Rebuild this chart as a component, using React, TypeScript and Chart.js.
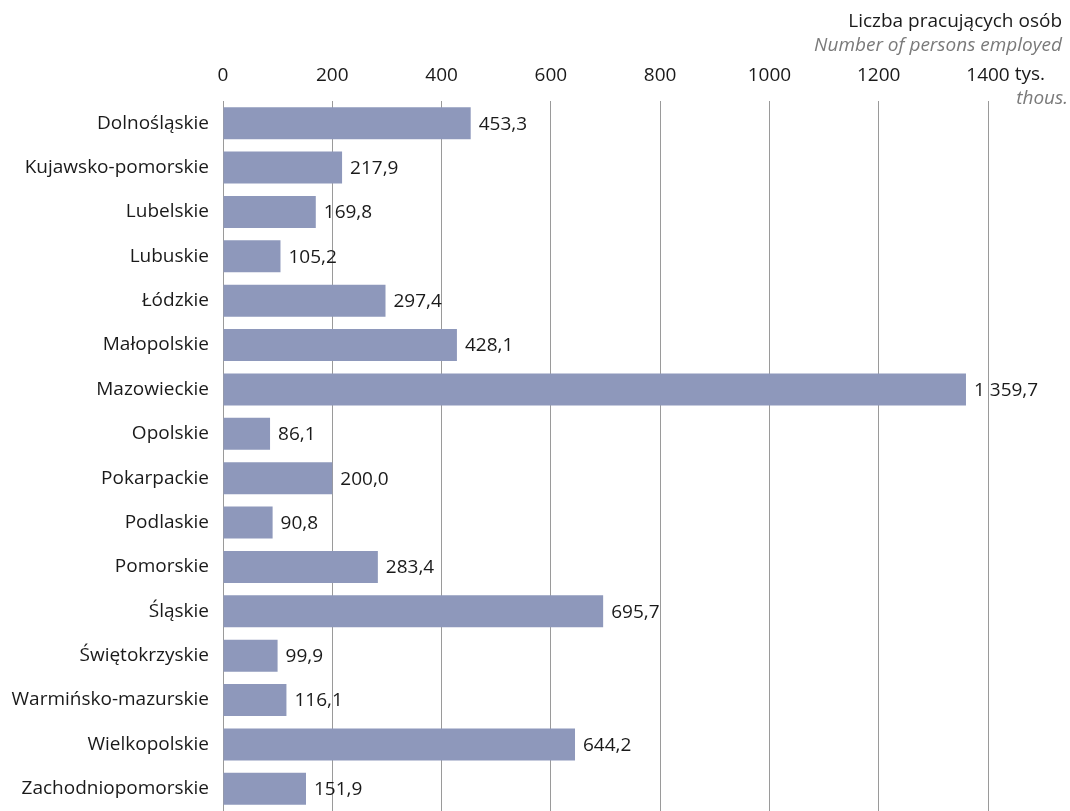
import React, { useEffect, useRef } from "react";
import { Chart, registerables } from "chart.js";

Chart.register(...registerables);

const categories = [
  "Dolnośląskie",
  "Kujawsko-pomorskie",
  "Lubelskie",
  "Lubuskie",
  "Łódzkie",
  "Małopolskie",
  "Mazowieckie",
  "Opolskie",
  "Pokarpackie",
  "Podlaskie",
  "Pomorskie",
  "Śląskie",
  "Świętokrzyskie",
  "Warmińsko-mazurskie",
  "Wielkopolskie",
  "Zachodniopomorskie",
];

const values = [
  453.3, 217.9, 169.8, 105.2, 297.4, 428.1, 1359.7, 86.1, 200.0, 90.8, 283.4,
  695.7, 99.9, 116.1, 644.2, 151.9,
];

const xTicks = [0, 200, 400, 600, 800, 1000, 1200, 1400];

const titlePl = "Liczba pracujących osób";
const titleEn = "Number of persons employed";
const unitPl = " tys.";
const unitEn = "thous.";

const FONT = "'Open Sans', sans-serif";
const SIZE = 19;

function formatPl(v: number): string {
  const fixed = v.toFixed(1);
  const [intPart, dec] = fixed.split(".");
  const withSpace = intPart.length > 3 ? intPart.slice(0, intPart.length - 3) + " " + intPart.slice(-3) : intPart;
  return withSpace + "," + dec;
}

const labelsPlugin = {
  id: "customText",
  afterDatasetsDraw(chart: any) {
    const ctx = chart.ctx;
    const meta = chart.getDatasetMeta(0);
    ctx.save();
    ctx.font = `${SIZE}px ${FONT}`;
    ctx.fillStyle = "#1a1a1a";
    ctx.textAlign = "left";
    ctx.textBaseline = "middle";
    meta.data.forEach((bar: any, i: number) => {
      ctx.fillText(formatPl(values[i]), bar.x + 8, bar.y + 1);
    });
    ctx.restore();
  },
  afterDraw(chart: any) {
    const ctx = chart.ctx;
    const xs = chart.scales.x;
    ctx.save();
    ctx.textBaseline = "middle";
    const last = xTicks[xTicks.length - 1];
    const px = xs.getPixelForValue(last);
    ctx.font = `${SIZE}px ${FONT}`;
    const w = ctx.measureText(String(last)).width;
    ctx.fillStyle = "#1a1a1a";
    ctx.textAlign = "left";
    ctx.fillText(unitPl, px + w / 2, 75);
    ctx.textAlign = "right";
    ctx.fillText(titlePl, 1062, 22);
    ctx.font = `italic ${SIZE}px ${FONT}`;
    ctx.fillStyle = "#7a7a7a";
    ctx.fillText(titleEn, 1062, 46);
    ctx.fillText(unitEn, 1068, 99);
    ctx.restore();
  },
};

export default function App() {
  const ref = useRef<HTMLCanvasElement>(null);
  useEffect(() => {
    if (!ref.current) return;
    const chart = new Chart(ref.current, {
      type: "bar",
      data: {
        labels: categories,
        datasets: [
          {
            data: values,
            backgroundColor: "#8e98bb",
            borderWidth: 0,
            categoryPercentage: 0.8,
            barPercentage: 0.9,
          },
        ],
      },
      options: {
        indexAxis: "y",
        animation: false,
        responsive: false,
        maintainAspectRatio: false,
        layout: { padding: { top: 0, left: 0, right: 82, bottom: 0 } },
        plugins: {
          legend: { display: false },
          tooltip: { enabled: false },
        },
        scales: {
          x: {
            position: "top",
            min: 0,
            max: 1400,
            afterBuildTicks: (s: any) => {
              s.ticks = xTicks.map((v) => ({ value: v }));
            },
            afterFit: (s: any) => {
              s.height = 101;
              s.paddingLeft = 0;
              s.paddingRight = 0;
            },
            grid: {
              color: "#9a9a9a",
              lineWidth: 1,
              drawTicks: false,
            },
            border: { display: false },
            ticks: {
              padding: 14,
              color: "#1a1a1a",
              font: { family: FONT, size: SIZE },
              maxRotation: 0,
              callback: (v: any) => String(v),
            },
          },
          y: {
            afterFit: (s: any) => {
              s.width = 223;
              s.paddingTop = 0;
              s.paddingBottom = 0;
            },
            grid: { display: false, drawTicks: false },
            border: { display: false },
            ticks: {
              padding: 14,
              color: "#1a1a1a",
              font: { family: FONT, size: SIZE },
            },
          },
        },
      },
      plugins: [labelsPlugin],
    });
    return () => chart.destroy();
  }, []);
  return (
    <div style={{ position: "fixed", left: 0, top: 0, width: 1070, height: 811, background: "#fff" }}>
      <canvas ref={ref} width={1070} height={811} style={{ width: 1070, height: 811, display: "block" }} />
    </div>
  );
}
